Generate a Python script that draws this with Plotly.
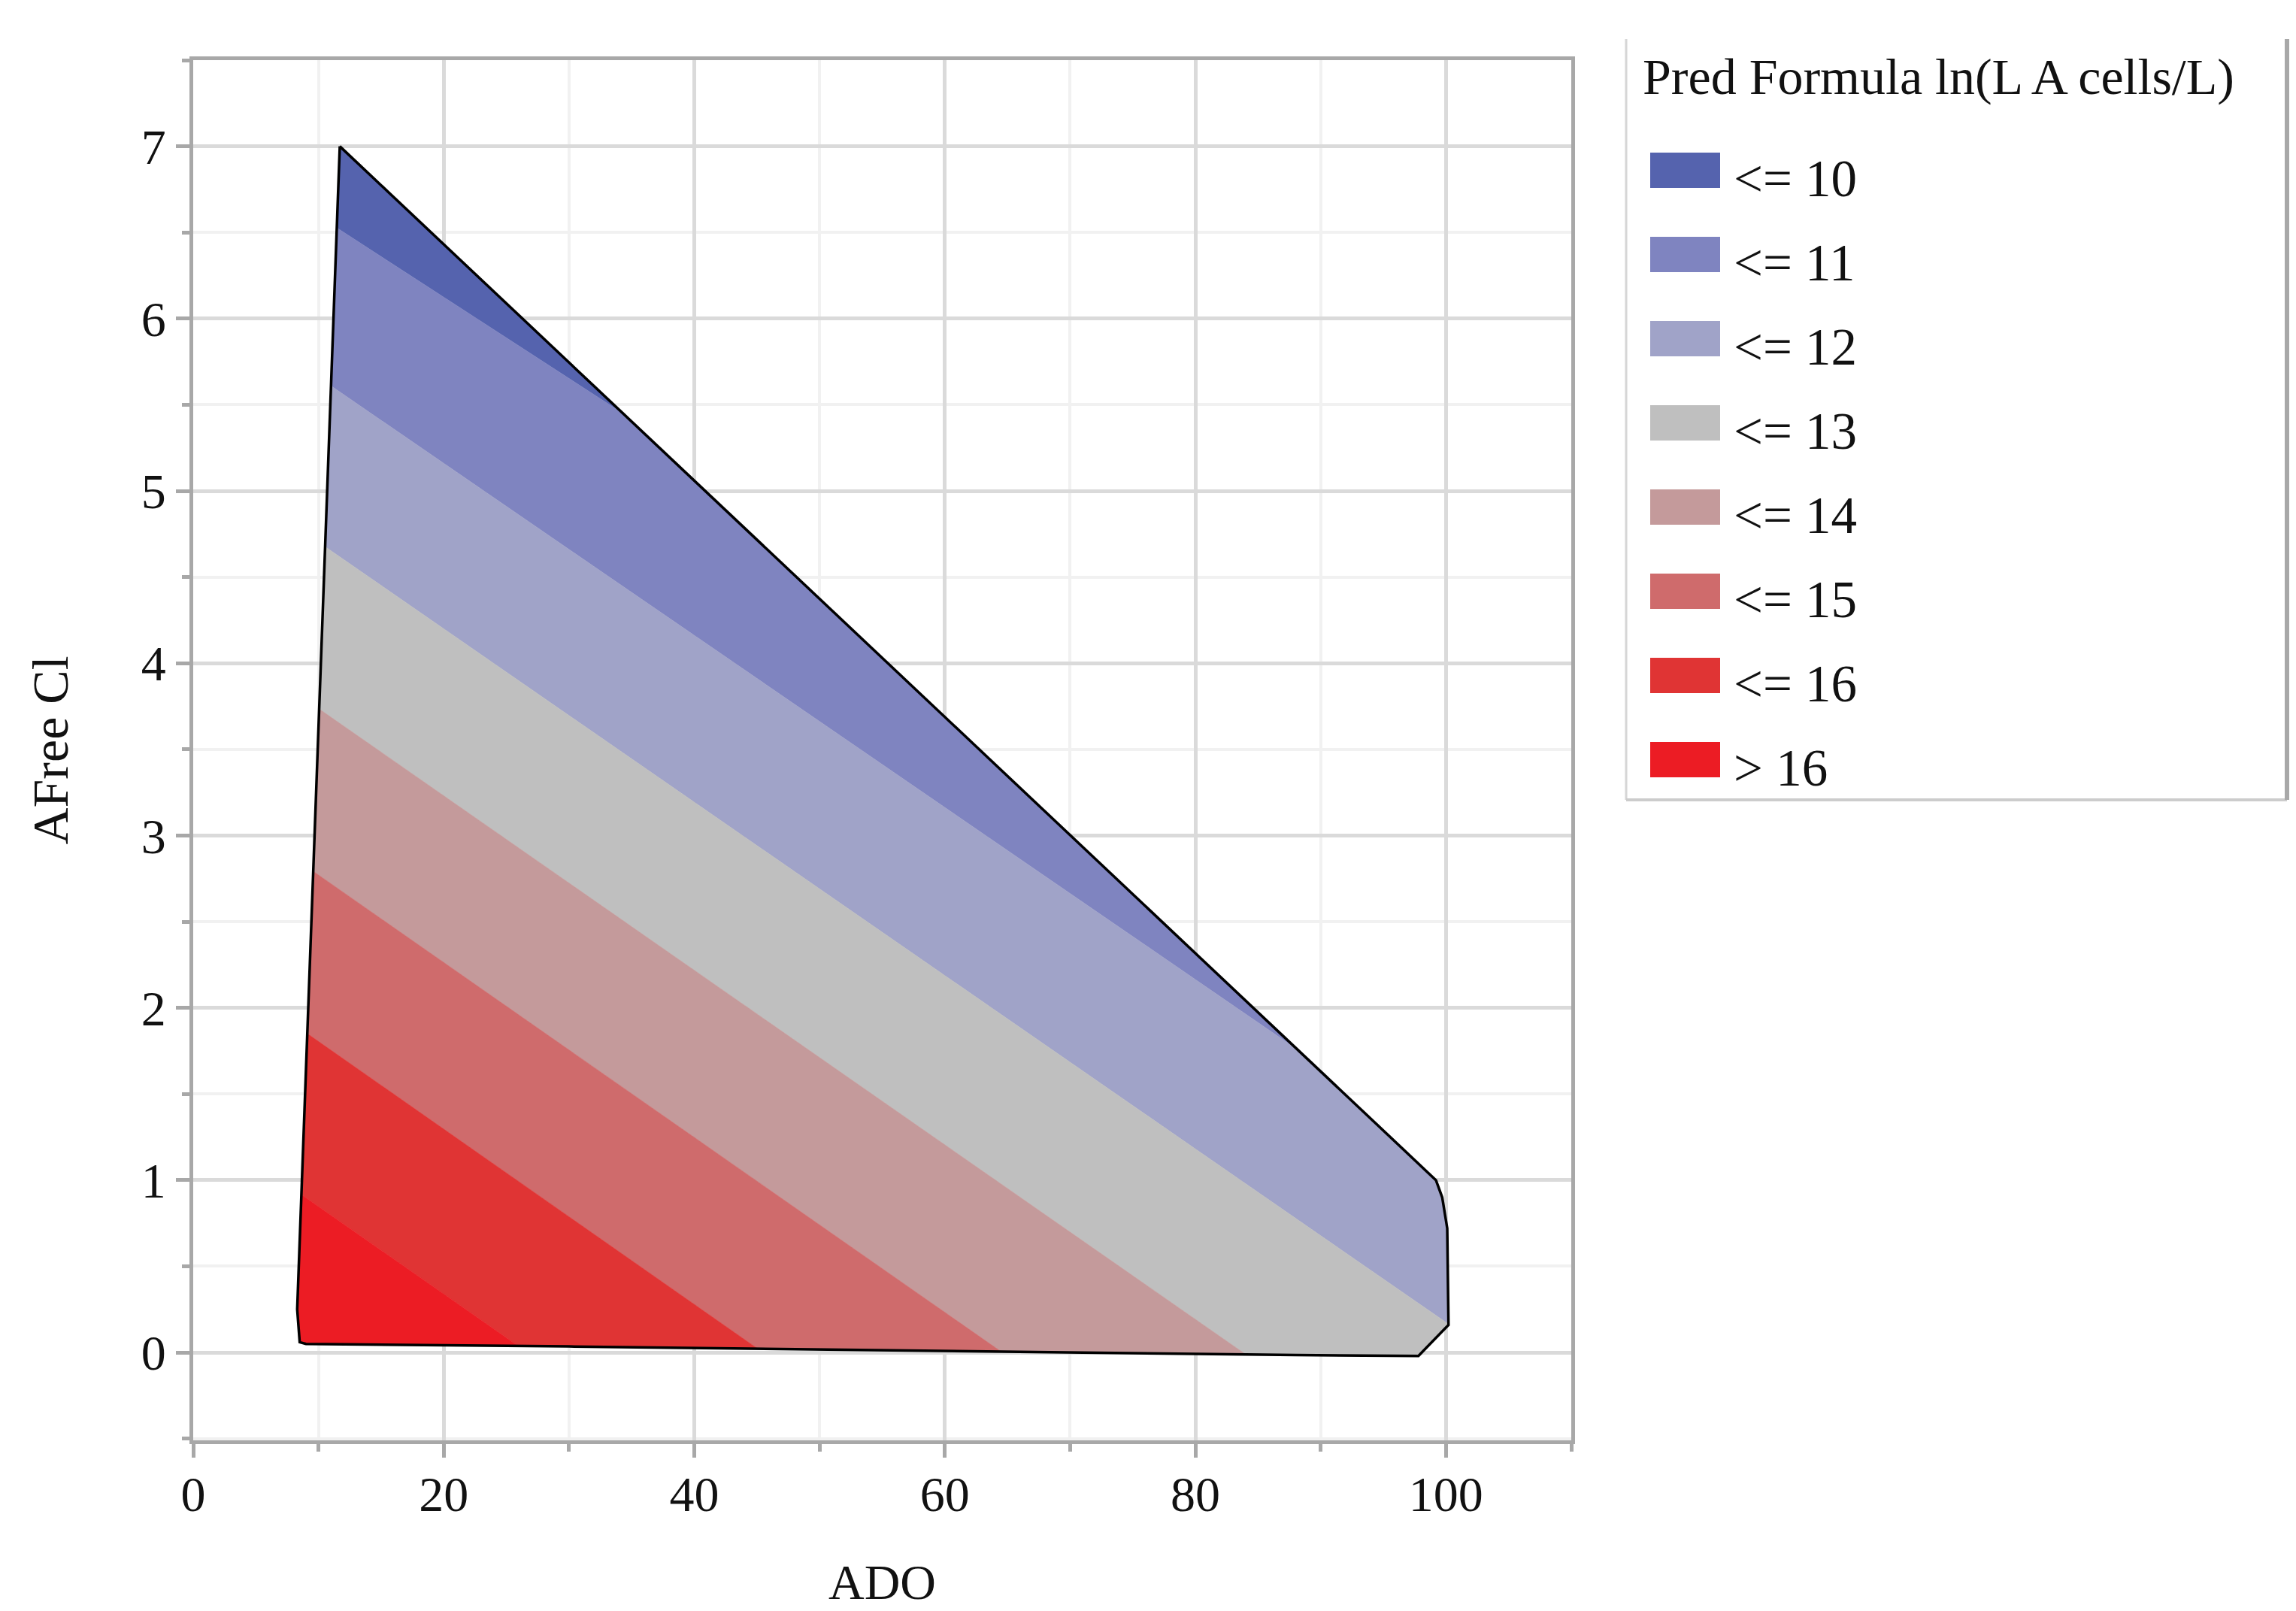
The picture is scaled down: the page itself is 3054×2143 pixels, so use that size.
import plotly.graph_objects as go

# Outline of the predicted region (ADO, AFree Cl)
hull_ado = [11.7, 99.2, 99.7, 100.1, 100.2, 97.8, 88.0, 60.0, 30.0, 9.0, 8.5, 8.3, 11.7]
hull_cl = [7.0, 1.0, 0.9, 0.72, 0.16, -0.02, -0.015, 0.01, 0.035, 0.05, 0.06, 0.25, 7.0]

# Contour levels of the prediction and two points read on each level line
levels = [10, 11, 12, 13, 14, 15, 16]
line_ado_a = [11.5, 11.05, 10.6, 10.15, 9.69, 9.24, 8.79]
line_cl_a = [6.525, 5.607, 4.673, 3.73, 2.787, 1.844, 0.909]
line_ado_b = [34.3, 88.3, 99.9, 83.8, 64.4, 45.0, 25.9]
line_cl_b = [5.45, 1.75, 0.18, 0.0, 0.01, 0.025, 0.04]

band_labels = ["<= 10", "<= 11", "<= 12", "<= 13", "<= 14", "<= 15", "<= 16", "> 16"]
band_colors = ["#5563ae", "#7f84c0", "#a0a3c8", "#bfbfbf",
               "#c49a9b", "#cf6b6c", "#e03434", "#ec1c24"]

FONT = "Liberation Serif"
W, H = 3054, 2143
PLOT_L, PLOT_R, PLOT_T, PLOT_B = 249, 2082, 72, 1908


def px(x):
    return (x - PLOT_L) / (PLOT_R - PLOT_L)


def py(y):
    return (PLOT_B - y) / (PLOT_B - PLOT_T)


def clip(poly, p0, p1, sign):
    # keep the part of poly on one side of the line p0-p1 (Sutherland-Hodgman)
    def side(q):
        return sign * ((p1[0] - p0[0]) * (q[1] - p0[1]) - (p1[1] - p0[1]) * (q[0] - p0[0]))

    out = []
    n = len(poly)
    for i in range(n):
        a, b = poly[i], poly[(i + 1) % n]
        sa, sb = side(a), side(b)
        if sa >= 0:
            out.append(a)
        if (sa >= 0) != (sb >= 0):
            t = sa / (sa - sb)
            out.append((a[0] + t * (b[0] - a[0]), a[1] + t * (b[1] - a[1])))
    return out


hull = list(zip(hull_ado[:-1], hull_cl[:-1]))
lines = [((line_ado_a[i], line_cl_a[i]), (line_ado_b[i], line_cl_b[i])) for i in range(len(levels))]

fig = go.Figure()

for k, label in enumerate(band_labels):
    poly = hull
    if k > 0:
        poly = clip(poly, lines[k - 1][0], lines[k - 1][1], -1)
    if k < len(levels):
        poly = clip(poly, lines[k][0], lines[k][1], 1)
    if not poly:
        continue
    xs = [p[0] for p in poly] + [poly[0][0]]
    ys = [p[1] for p in poly] + [poly[0][1]]
    fig.add_trace(go.Scatter(
        x=xs, y=ys, mode="lines", fill="toself",
        fillcolor=band_colors[k], line=dict(width=0.5, color=band_colors[k]),
        name=label, showlegend=False, hoverinfo="name",
    ))

# black outline of the region
fig.add_trace(go.Scatter(
    x=hull_ado, y=hull_cl, mode="lines",
    line=dict(color="black", width=3.5), showlegend=False, hoverinfo="skip",
))

# hand-built legend panel to the right of the plot
box_l, box_r, box_t, box_b = 2155, 3034, 44, 1056
shapes = [
    dict(type="line", xref="paper", yref="paper", x0=px(box_l), x1=px(box_l), y0=py(box_t), y1=py(box_b),
         line=dict(color="#d6d6d6", width=3)),
    dict(type="line", xref="paper", yref="paper", x0=px(box_l), x1=px(box_r), y0=py(box_b), y1=py(box_b),
         line=dict(color="#cccccc", width=4)),
    dict(type="line", xref="paper", yref="paper", x0=px(box_r), x1=px(box_r), y0=py(box_t), y1=py(box_b),
         line=dict(color="#a8a8a8", width=6)),
]
annotations = [
    dict(text="Pred Formula ln(L A cells/L)", xref="paper", yref="paper", x=px(2175), y=py(94),
         xanchor="left", yanchor="middle", showarrow=False,
         font=dict(family=FONT, size=68, color="#111111")),
]
for i, label in enumerate(band_labels):
    yc = 218.5 + 112.0 * i
    shapes.append(dict(type="rect", xref="paper", yref="paper", x0=px(2187), x1=px(2280),
                       y0=py(yc + 23.5), y1=py(yc - 23.5), fillcolor=band_colors[i],
                       line=dict(width=0)))
    annotations.append(dict(text=label, xref="paper", yref="paper", x=px(2296), y=py(yc + 11.5),
                            xanchor="left", yanchor="middle", showarrow=False,
                            font=dict(family=FONT, size=69, color="#111111")))

fig.update_layout(
    width=W, height=H,
    margin=dict(l=PLOT_L, r=W - PLOT_R, t=PLOT_T, b=H - PLOT_B),
    plot_bgcolor="white", paper_bgcolor="white",
    font=dict(family=FONT, size=66, color="#111111"),
    showlegend=False,
    shapes=shapes, annotations=annotations,
)

axis_common = dict(
    showline=True, linecolor="#a8a8a8", linewidth=5, mirror=True,
    ticks="outside", ticklen=18, tickwidth=5, tickcolor="#a8a8a8",
    showgrid=True, gridcolor="#dadada", gridwidth=5, zeroline=False,
    tickfont=dict(family=FONT, size=66, color="#111111"),
)

fig.update_xaxes(
    range=[0, 110], tick0=0, dtick=20, ticklabelstandoff=-8,
    title=dict(text="ADO", font=dict(family=FONT, size=66, color="#111111"), standoff=59),
    minor=dict(dtick=10, ticks="outside", ticklen=10, tickcolor="#a8a8a8",
               showgrid=True, gridcolor="#f1f1f1", gridwidth=4),
    **axis_common,
)
fig.update_yaxes(
    range=[-0.51, 7.5], tick0=0, dtick=1,
    title=dict(text="AFree Cl", font=dict(family=FONT, size=68, color="#111111"), standoff=76),
    minor=dict(dtick=0.5, ticks="outside", ticklen=10, tickcolor="#a8a8a8",
               showgrid=True, gridcolor="#f1f1f1", gridwidth=4),
    **axis_common,
)

fig.write_html("out.html")
